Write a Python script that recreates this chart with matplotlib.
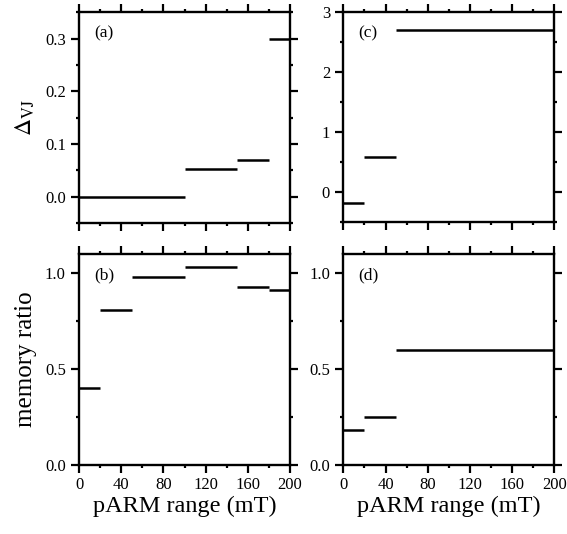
import matplotlib
matplotlib.use('Agg')
from matplotlib import pyplot as plt
from matplotlib.ticker import MultipleLocator

# pARM window edges (mT) and values for each panel
a_start = [0, 100, 150, 180]
a_end = [100, 150, 180, 200]
a_val = [0.0, 0.052, 0.069, 0.30]

b_start = [0, 20, 50, 100, 150, 180]
b_end = [20, 50, 100, 150, 180, 200]
b_val = [0.40, 0.81, 0.98, 1.03, 0.93, 0.91]

c_start = [0, 20, 50]
c_end = [20, 50, 200]
c_val = [-0.18, 0.58, 2.71]

d_start = [0, 20, 50]
d_end = [20, 50, 200]
d_val = [0.18, 0.25, 0.60]

plt.rcParams['font.family'] = ['Liberation Serif', 'DejaVu Serif']
plt.rcParams['mathtext.fontset'] = 'stix'

fig = plt.figure(figsize=(5.67, 5.34), dpi=100)
W, H = 567.0, 534.0


def make_ax(l, t, r, b):
    return fig.add_axes([l / W, 1 - b / H, (r - l) / W, (b - t) / H])


ax_a = make_ax(79, 12.3, 290, 223)
ax_c = make_ax(343.3, 12.3, 554.3, 222)
ax_b = make_ax(79, 254, 290, 465)
ax_d = make_ax(343.3, 254, 554.3, 465)

panels = [
    (ax_a, a_start, a_end, a_val, (-0.05, 0.35), 0.1, 0.05, '%.1f', '(a)'),
    (ax_b, b_start, b_end, b_val, (0, 1.1), 0.5, 0.25, '%.1f', '(b)'),
    (ax_c, c_start, c_end, c_val, (-0.5, 3.0), 1, 0.5, '%d', '(c)'),
    (ax_d, d_start, d_end, d_val, (0, 1.1), 0.5, 0.25, '%.1f', '(d)'),
]

for ax, xs, xe, yv, ylim, ymaj, ymin, fmt, tag in panels:
    ax.hlines(yv, xs, xe, colors='black', linewidth=1.8)
    ax.set_xlim(0, 200)
    ax.set_ylim(*ylim)
    ax.xaxis.set_major_locator(MultipleLocator(40))
    ax.xaxis.set_minor_locator(MultipleLocator(20))
    ax.yaxis.set_major_locator(MultipleLocator(ymaj))
    ax.yaxis.set_minor_locator(MultipleLocator(ymin))
    ax.yaxis.set_major_formatter(matplotlib.ticker.FormatStrFormatter(fmt))
    ax.tick_params(which='both', direction='out', top=True, right=True,
                   width=1.6, labelsize=12)
    ax.tick_params(which='major', length=5.5)
    ax.tick_params(axis='y', which='major', pad=4)
    ax.tick_params(axis='x', which='major', pad=3)
    ax.tick_params(which='minor', length=2.5)
    for s in ax.spines.values():
        s.set_linewidth(1.7)
    ax.text(0.07, 0.9, tag, transform=ax.transAxes, fontsize=12.5,
            va='center', ha='left')

for ax in (ax_a, ax_c):
    ax.set_xticklabels([])

ax_a.set_ylabel(r'$\Delta_{\mathrm{VJ}}$', fontsize=17, labelpad=6)
ax_b.set_ylabel('memory ratio', fontsize=18, labelpad=6)
ax_b.set_xlabel('pARM range (mT)', fontsize=17.5, labelpad=2)
ax_d.set_xlabel('pARM range (mT)', fontsize=17.5, labelpad=2)

fig.savefig('out.png', dpi=100)
